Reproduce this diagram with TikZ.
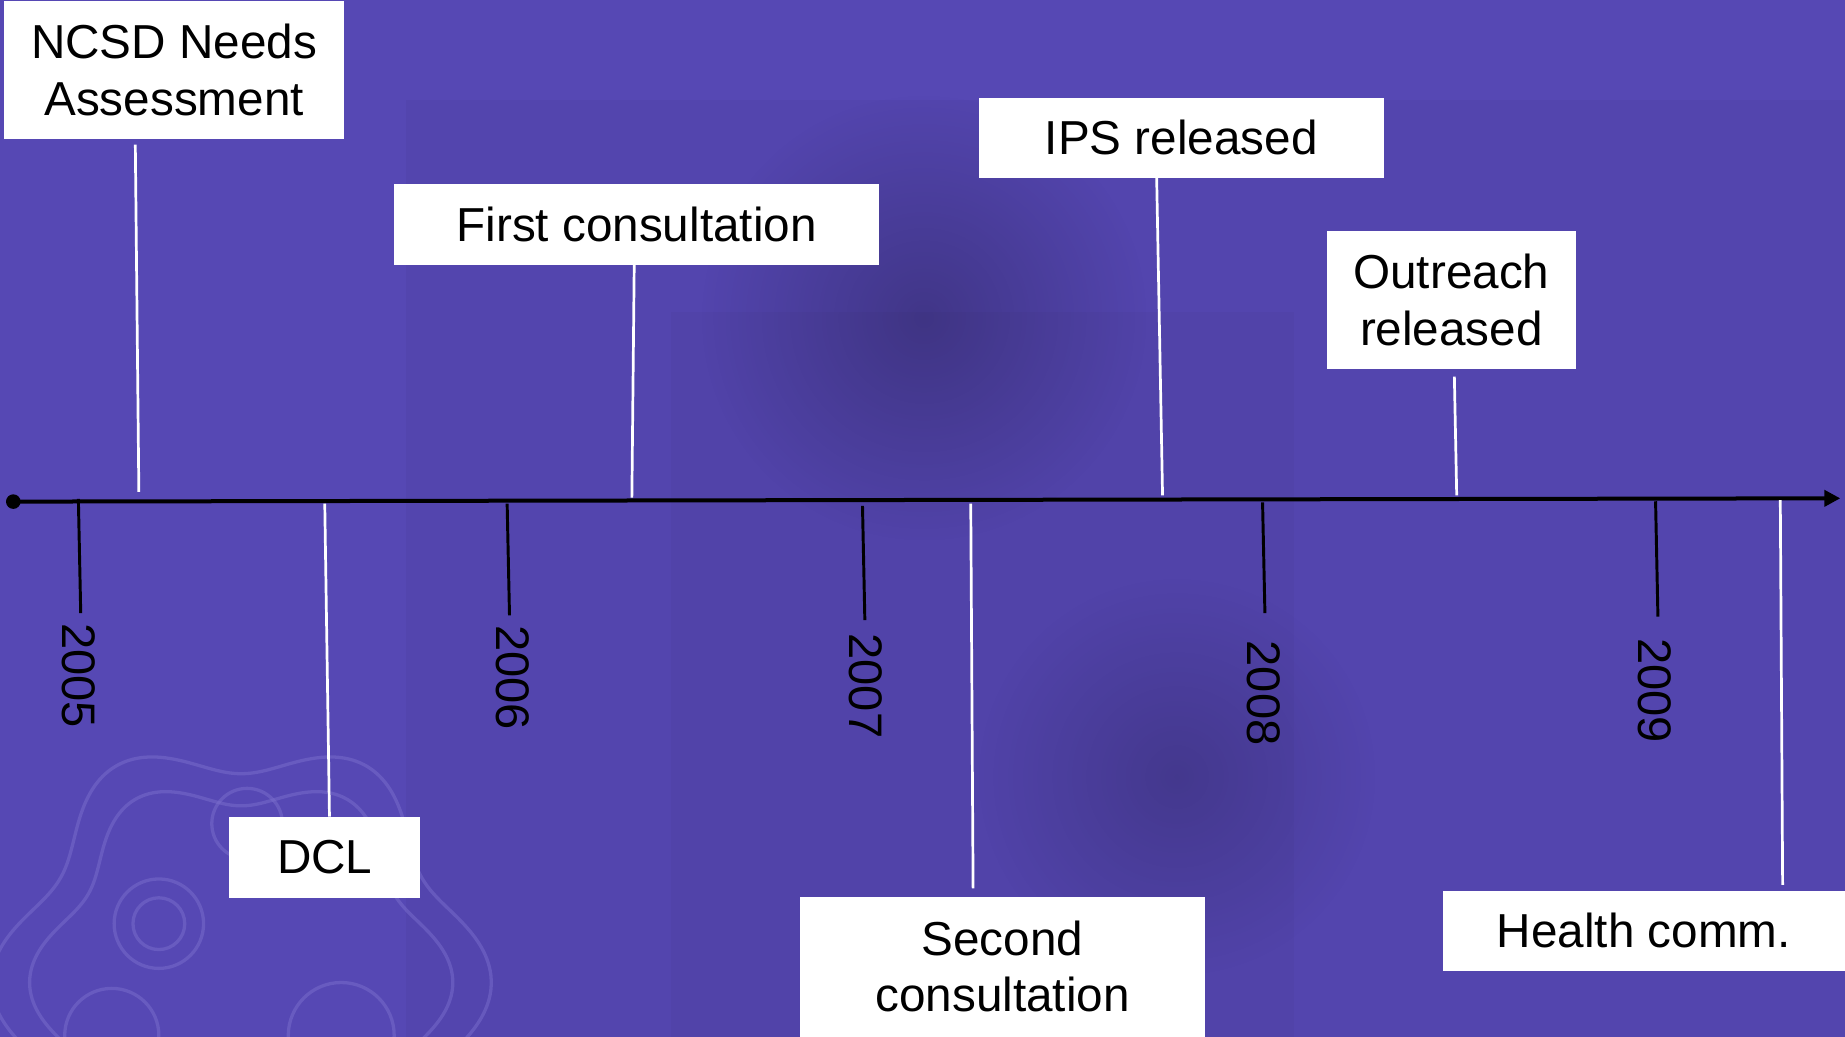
\documentclass[tikz,border=0pt]{standalone}
\usepackage{fontspec}
\setmainfont{Liberation Sans}
\usetikzlibrary{arrows.meta,fadings}
\definecolor{bgpurple}{RGB}{86,72,180}
\definecolor{wmark}{RGB}{122,110,204}
\tikzfading[name=softblot, inner color=transparent!0, outer color=transparent!100]
\begin{document}
\begin{tikzpicture}[x=0.5pt,y=-0.5pt,
  evbox/.style={fill=white, inner sep=0pt, align=center, font=\fontsize{20.25}{24}\selectfont},
  yearlbl/.style={rotate=-90, inner sep=0pt, font=\fontsize{20}{24}\selectfont},
  conn/.style={draw=white, line width=1.15pt},
  tickln/.style={draw=black, line width=1.25pt},
  axisln/.style={draw=black, line width=1.7pt, -{Triangle[length=6.8pt,width=6.8pt]}},
  wline/.style={draw=wmark, line width=1.4pt, opacity=0.5},
  blot/.style={fill=black, path fading=softblot}]
% background
\fill[bgpurple] (0,0) rectangle (1568,881);
\useasboundingbox (0,0) rectangle (1568,881);
\begin{scope}
\clip (0,0) rectangle (1568,881);
\fill[black, opacity=0.03] (345,85) rectangle (1568,881);
\fill[black, opacity=0.025] (570,265) rectangle (1100,881);
\fill[blot, opacity=0.22] (785,270) circle[radius=190];
\fill[blot, opacity=0.16] (1000,660) circle[radius=170];
% faint watermark
\draw[wline] plot[domain=0:360, samples=200, smooth]
  ({205+195*(1+0.09*cos(6*\x))*cos(\x)}, {835+195*(1+0.09*cos(6*\x))*sin(\x)});
\draw[wline] plot[domain=0:360, samples=200, smooth]
  ({205+165*(1+0.09*cos(6*\x))*cos(\x)}, {835+165*(1+0.09*cos(6*\x))*sin(\x)});
\draw[wline] (135,785) circle[radius=38];
\draw[wline] (135,785) circle[radius=22];
\draw[wline] (290,880) circle[radius=45];
\draw[wline] (210,700) circle[radius=30];
\draw[wline] (95,880) circle[radius=40];
\end{scope}
% event boxes
\node[evbox, minimum width=144.5pt, minimum height=58.5pt] (ncsd) at (148,59.5) {NCSD Needs\\Assessment};
\node[evbox, minimum width=206pt, minimum height=34.5pt] (first) at (541,190.5) {First consultation};
\node[evbox, minimum width=172pt, minimum height=34pt] (ips) at (1004,117) {IPS released};
\node[evbox, minimum width=105.5pt, minimum height=59pt] (outreach) at (1233.5,255) {Outreach\\released};
\node[evbox, minimum width=81pt, minimum height=34.5pt] (dcl) at (276,728.5) {DCL};
\node[evbox, minimum width=172pt, minimum height=59.5pt] (second) at (852,821.5) {Second\\consultation};
\node[evbox, minimum width=171pt, minimum height=34pt] (health) at (1397,791) {Health comm.};
% timeline
\coordinate (tstart) at (11.3,426.3);
\coordinate (tend) at (1564,423.5);
\draw[axisln] (tstart) -- (tend);
\fill[black] (tstart) circle[radius=3.1pt];
% year ticks and labels
\coordinate (y5a) at (66.6,424);  \coordinate (y5b) at (68.6,521);
\coordinate (y6a) at (431,428);   \coordinate (y6b) at (433,523);
\coordinate (y7a) at (733,430);   \coordinate (y7b) at (735,527);
\coordinate (y8a) at (1073,427);  \coordinate (y8b) at (1075,521);
\coordinate (y9a) at (1407,426);  \coordinate (y9b) at (1409,524);
\draw[tickln] (y5a) -- (y5b);
\draw[tickln] (y6a) -- (y6b);
\draw[tickln] (y7a) -- (y7b);
\draw[tickln] (y8a) -- (y8b);
\draw[tickln] (y9a) -- (y9b);
\node[yearlbl] (l2005) at (67,574) {2005};
\node[yearlbl] (l2006) at (436,576) {2006};
\node[yearlbl] (l2007) at (736,583) {2007};
\node[yearlbl] (l2008) at (1074,589) {2008};
\node[yearlbl] (l2009) at (1406,587) {2009};
% connectors
\coordinate (c1a) at (115,123);  \coordinate (c1b) at (118,418);
\coordinate (c2a) at (539,225);  \coordinate (c2b) at (537,423);
\coordinate (c3a) at (983,151);  \coordinate (c3b) at (988,421);
\coordinate (c4a) at (1236,320); \coordinate (c4b) at (1238,421);
\coordinate (c5a) at (276,428);  \coordinate (c5b) at (280,694);
\coordinate (c6a) at (825,428);  \coordinate (c6b) at (827,755);
\coordinate (c7a) at (1513,425); \coordinate (c7b) at (1515,752);
\draw[conn] (c1a) -- (c1b);
\draw[conn] (c2a) -- (c2b);
\draw[conn] (c3a) -- (c3b);
\draw[conn] (c4a) -- (c4b);
\draw[conn] (c5a) -- (c5b);
\draw[conn] (c6a) -- (c6b);
\draw[conn] (c7a) -- (c7b);
\end{tikzpicture}
\end{document}
